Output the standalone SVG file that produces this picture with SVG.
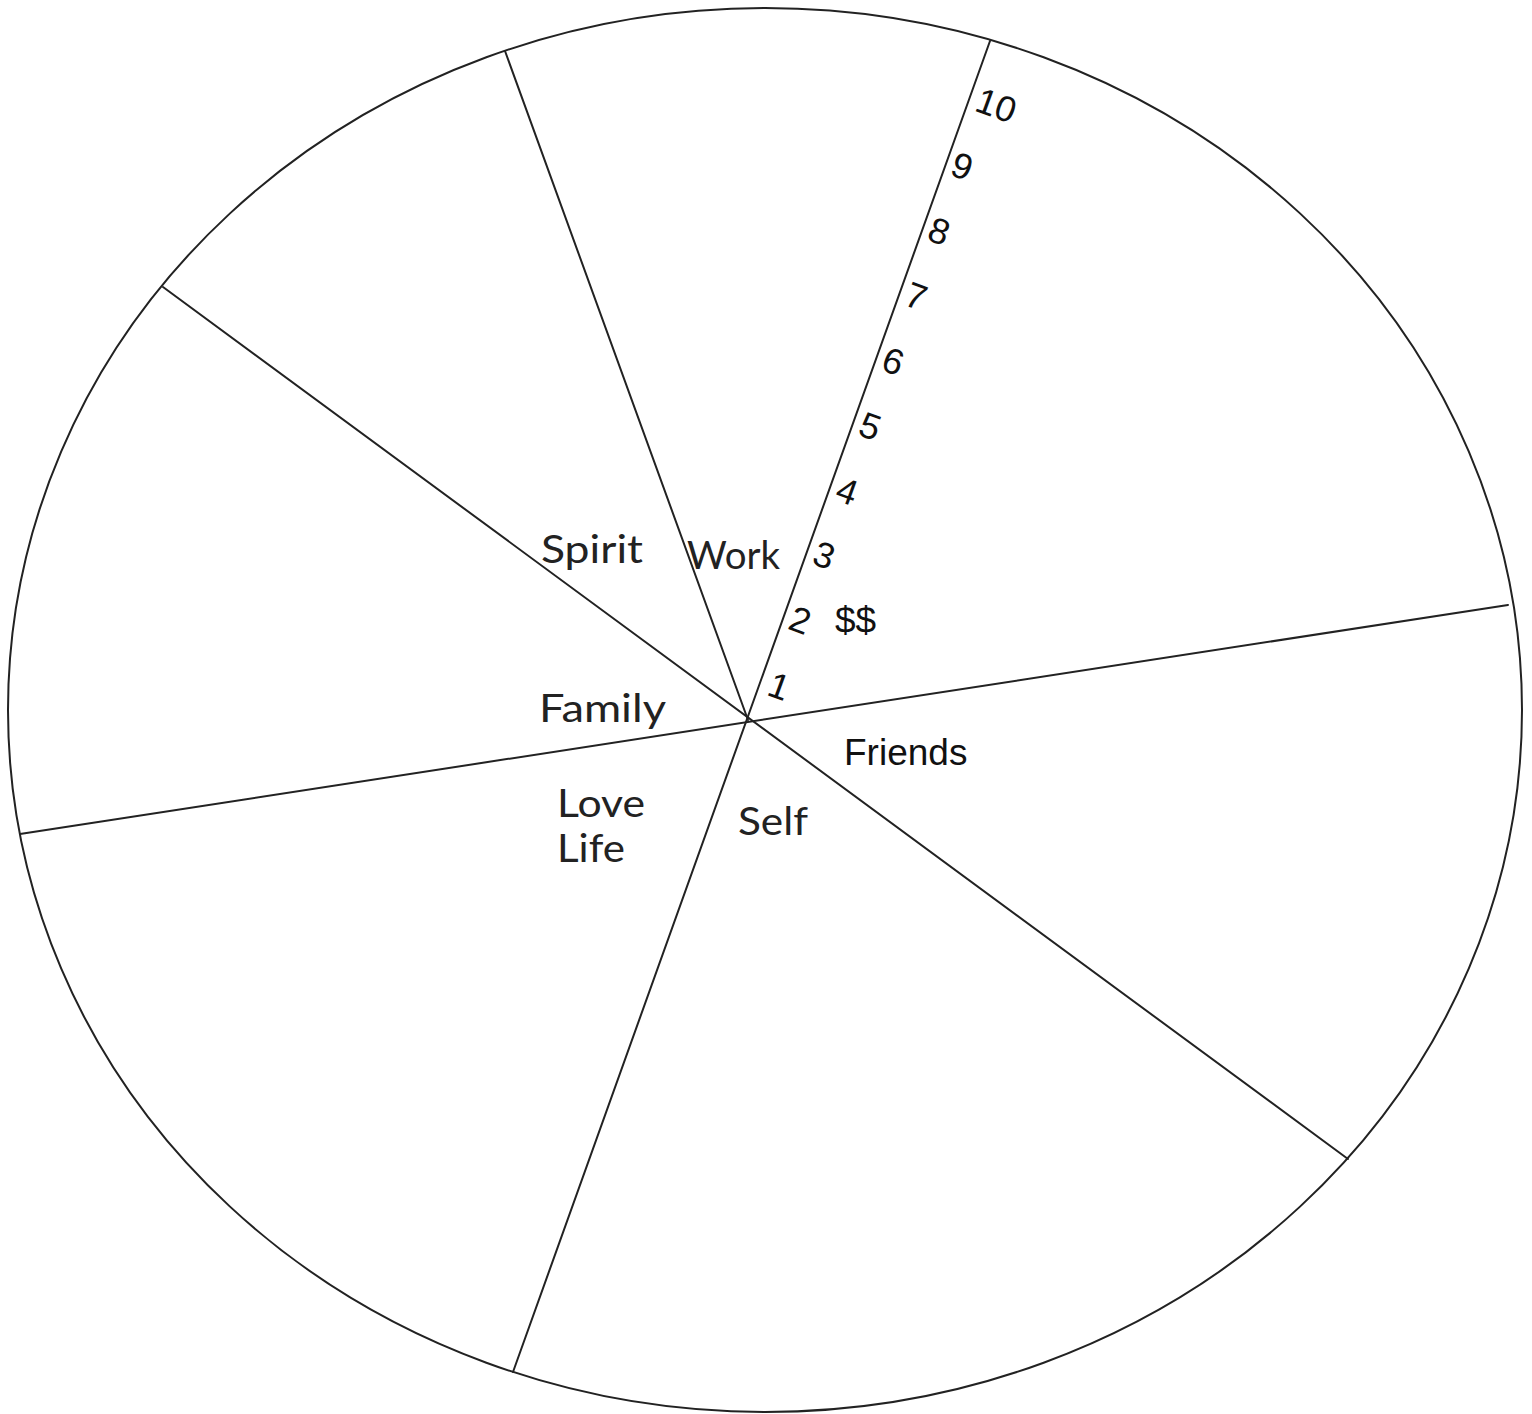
<svg xmlns="http://www.w3.org/2000/svg" width="1532" height="1414" viewBox="0 0 1532 1414">
<style>
.ln{stroke:#222;stroke-width:2;fill:none;stroke-linecap:round}
.lbl{font-family:Lato,"Noto Sans",sans-serif;font-size:38px;fill:#222}
.ar{font-family:"Liberation Sans",Arial,sans-serif;font-size:37px;fill:#111}
.num{font-family:"Liberation Sans",Arial,sans-serif;font-size:36px;fill:#111}
</style>
<rect width="1532" height="1414" fill="#fff"/>
<g id="wheel">
<ellipse class="ln" cx="765" cy="710" rx="757" ry="702"/>
</g>
<g id="connectors">
<line class="ln" x1="990" y1="41" x2="513" y2="1372"/>
<line class="ln" x1="163" y1="287" x2="1348" y2="1159"/>
<line class="ln" x1="20" y1="834" x2="1508" y2="605"/>
<line class="ln" x1="505" y1="51" x2="748" y2="720"/>
</g>
<g id="labels">
<text id="spirit" class="lbl" x="541" y="563" textLength="102" lengthAdjust="spacingAndGlyphs">Spirit</text>
<text id="work" class="lbl" x="687" y="569" textLength="93" lengthAdjust="spacingAndGlyphs">Work</text>
<text id="family" class="lbl" x="539" y="722" textLength="127" lengthAdjust="spacingAndGlyphs">Family</text>
<text id="love" class="lbl" x="557" y="817" textLength="88" lengthAdjust="spacingAndGlyphs">Love</text>
<text id="life" class="lbl" x="557" y="862" textLength="68" lengthAdjust="spacingAndGlyphs">Life</text>
<text id="self" class="lbl" x="738" y="835" textLength="70" lengthAdjust="spacingAndGlyphs">Self</text>
<text id="friends" class="ar" x="844" y="765">Friends</text>
<text id="money" class="ar" x="835" y="633">$$</text>
</g>
<g id="scale" class="num" text-anchor="middle">
<text transform="translate(775,698) rotate(20)">1</text>
<text transform="translate(796,632) rotate(20)">2</text>
<text transform="translate(820,567) rotate(20)">3</text>
<text transform="translate(843,503) rotate(20)">4</text>
<text transform="translate(866,438) rotate(20)">5</text>
<text transform="translate(889,373) rotate(20)">6</text>
<text transform="translate(912,308) rotate(20)">7</text>
<text transform="translate(935,243) rotate(20)">8</text>
<text transform="translate(958,178) rotate(20)">9</text>
<text transform="translate(992,117) rotate(20)">10</text>
</g>
</svg>
